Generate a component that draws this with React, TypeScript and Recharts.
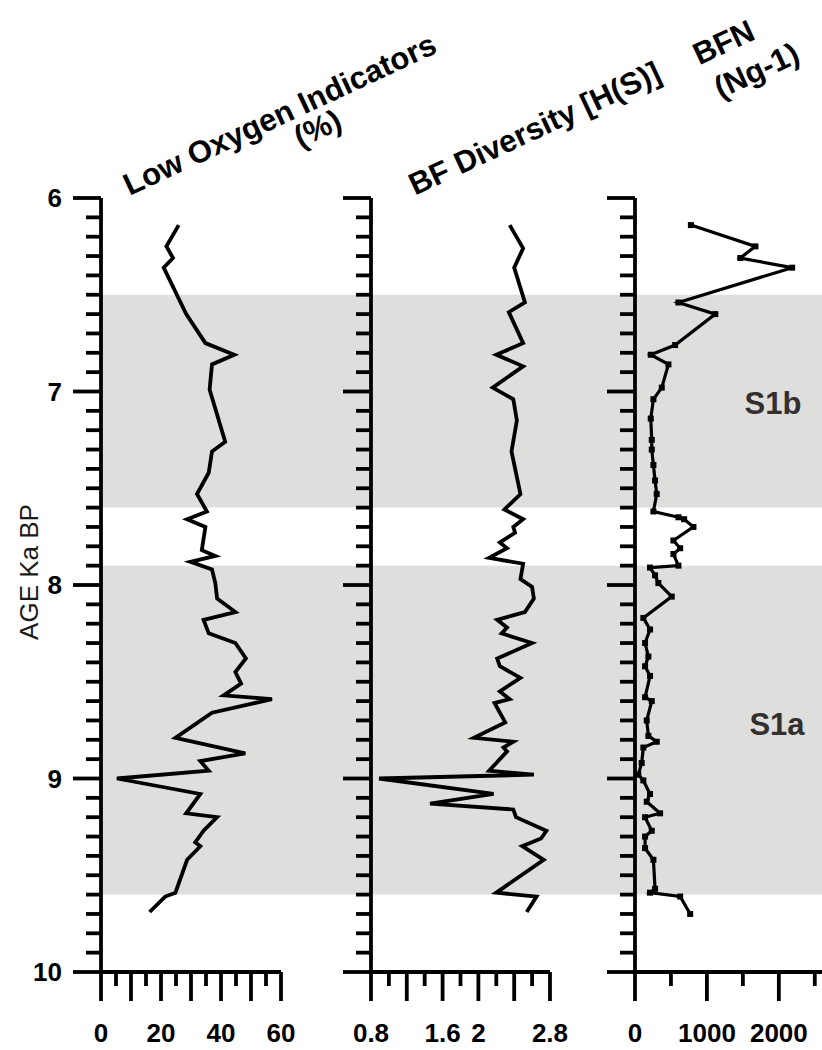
import React from "react";
import { ScatterChart, Scatter, XAxis, YAxis, ReferenceArea, ReferenceLine } from "recharts";

const FONT = "'Liberation Sans', Arial, Helvetica, sans-serif";

// age axis (ka BP), minor tick every 0.1
const AGE_TICKS = [
  6, 6.1, 6.2, 6.3, 6.4, 6.5, 6.6, 6.7, 6.8, 6.9,
  7, 7.1, 7.2, 7.3, 7.4, 7.5, 7.6, 7.7, 7.8, 7.9,
  8, 8.1, 8.2, 8.3, 8.4, 8.5, 8.6, 8.7, 8.8, 8.9,
  9, 9.1, 9.2, 9.3, 9.4, 9.5, 9.6, 9.7, 9.8, 9.9, 10,
];
const AGE_MAJOR = [6, 7, 8, 9, 10];

// sapropel sub-units
const BAND_NAMES = ["S1b", "S1a"];
const BAND_TOP = [6.5, 7.9];
const BAND_BOTTOM = [7.6, 9.6];

// low oxygen indicators (%)
const oxyAge = [
  6.14, 6.25, 6.31, 6.36, 6.6, 6.75, 6.81, 6.86, 6.99, 7.26, 7.31, 7.42, 7.53, 7.62, 7.66, 7.7,
  7.82, 7.85, 7.88, 7.92, 7.99, 8.07, 8.14, 8.18, 8.25, 8.3, 8.38, 8.45, 8.51, 8.57, 8.59, 8.66,
  8.79, 8.87, 8.91, 8.96, 9.0, 9.08, 9.18, 9.2, 9.27, 9.33, 9.35, 9.42, 9.59, 9.61, 9.69,
];
const oxyPct = [
  25.9, 21.8, 24, 20.9, 28.4, 34.8, 44.4, 37, 36.2, 41.4, 37, 35.9, 32, 35.3, 28.7, 34.8,
  33.6, 38.1, 29.8, 37, 38.1, 38.7, 44.8, 34.2, 35.9, 44.8, 48.3, 44.8, 46.7, 40.9, 57, 37,
  24.8, 48.1, 33.1, 35.9, 5.3, 33.1, 28.4, 38.7, 34.2, 31.4, 33.1, 28.7, 24.8, 21.4, 16.2,
];

// benthic foraminifera diversity H(S)
const divAge = [
  6.14, 6.26, 6.36, 6.54, 6.59, 6.75, 6.81, 6.87, 6.98, 7.04, 7.15, 7.31, 7.53, 7.61, 7.66, 7.7,
  7.73, 7.78, 7.81, 7.86, 7.89, 7.97, 8.01, 8.07, 8.14, 8.18, 8.22, 8.25, 8.3, 8.38, 8.42, 8.48,
  8.55, 8.59, 8.61, 8.71, 8.79, 8.81, 8.84, 8.86, 8.96, 8.98, 9.0, 9.08, 9.13, 9.16, 9.2, 9.27,
  9.31, 9.35, 9.42, 9.59, 9.61, 9.69,
];
const divH = [
  2.35, 2.5, 2.4, 2.52, 2.34, 2.5, 2.2, 2.5, 2.16, 2.39, 2.43, 2.37, 2.47, 2.29, 2.5, 2.39,
  2.41, 2.24, 2.32, 2.12, 2.5, 2.47, 2.6, 2.62, 2.52, 2.21, 2.32, 2.26, 2.6, 2.21, 2.24, 2.47,
  2.24, 2.35, 2.18, 2.3, 1.95, 2.39, 2.28, 2.32, 2.12, 2.62, 0.89, 2.17, 1.46, 2.39, 2.42, 2.76,
  2.7, 2.49, 2.73, 2.2, 2.65, 2.54,
];

// benthic foraminifera number (Ng-1)
const bfnAge = [
  6.14, 6.25, 6.31, 6.36, 6.54, 6.6, 6.76, 6.81, 6.86, 6.98, 7.04, 7.14, 7.25, 7.3, 7.38, 7.46,
  7.53, 7.62, 7.65, 7.66, 7.7, 7.77, 7.81, 7.84, 7.9, 7.91, 7.95, 7.99, 8.06, 8.17, 8.23, 8.3,
  8.37, 8.42, 8.47, 8.58, 8.6, 8.7, 8.78, 8.81, 8.84, 8.92, 8.98, 9.01, 9.08, 9.12, 9.18, 9.2,
  9.27, 9.3, 9.36, 9.42, 9.57, 9.59, 9.61, 9.7,
];
const bfnCount = [
  777, 1674, 1464, 2185, 604, 1116, 558, 219, 465, 372, 256, 219, 233, 233, 256, 279,
  302, 256, 604, 683, 813, 534, 628, 534, 604, 209, 279, 325, 511, 116, 209, 140,
  186, 140, 209, 140, 233, 163, 186, 302, 116, 93, 46, 116, 209, 163, 349, 140,
  233, 140, 140, 256, 279, 209, 628, 767,
];

// x axes
const oxyTicks = [0, 5, 10, 15, 20, 25, 30, 35, 40, 45, 50, 55, 60];
const oxyLong = [0, 10, 20, 30, 40, 50, 60];
const oxyLabels = [0, 20, 40, 60];

const divTicks = [0.8, 1, 1.2, 1.4, 1.6, 1.8, 2, 2.2, 2.4, 2.6, 2.8];
const divLong = [0.8, 1.2, 1.6, 2, 2.4, 2.8];
const divLabels = [0.8, 1.6, 2, 2.8];

const bfnTicks = [0, 500, 1000, 1500, 2000, 2500];
const bfnLong = [0, 1000, 2000];
const bfnLabels = [0, 1000, 2000];

const zip = (ages: number[], vals: number[]) => ages.map((age, i) => ({ age, v: vals[i] }));

const AXIS_W = 3.8;

const AgeTick = (props: any) => {
  const { x, y, payload, showLabel } = props;
  const major = AGE_MAJOR.includes(payload.value);
  return (
    <g>
      <line x1={x - (major ? 28 : 15)} x2={x} y1={y} y2={y} stroke="#000" strokeWidth={AXIS_W} />
      {major && showLabel && (
        <text x={x - 39} y={y} textAnchor="end" dominantBaseline="central"
          fontFamily={FONT} fontWeight="bold" fontSize={26} fill="#000">
          {payload.value}
        </text>
      )}
    </g>
  );
};

const ValueTick = (props: any) => {
  const { x, y, payload, longTicks, labels } = props;
  const v = payload.value;
  const isLong = longTicks.includes(v);
  return (
    <g>
      <line x1={x} x2={x} y1={y} y2={y + (isLong ? 29 : 14)} stroke="#000" strokeWidth={AXIS_W} />
      {labels.includes(v) && (
        <text x={x} y={y + 61} textAnchor="middle" dominantBaseline="central"
          fontFamily={FONT} fontWeight="bold" fontSize={26} fill="#000">
          {v}
        </text>
      )}
    </g>
  );
};

const hidden = () => <g />;
const square = (p: any) => <rect x={p.cx - 3} y={p.cy - 3} width={6} height={6} fill="#000" />;

type PanelProps = {
  left: number;
  axisWidth: number;
  plotWidth: number;
  domain: [number, number];
  axisEnd: number;
  ticks: number[];
  longTicks: number[];
  labels: number[];
  rows: { age: number; v: number }[];
  markers?: boolean;
  showAgeLabels?: boolean;
  lineWidth: number;
};

function Panel(p: PanelProps) {
  return (
    <div style={{ position: "absolute", left: p.left, top: 0 }}>
      <ScatterChart width={p.axisWidth + p.plotWidth} height={1050}
        margin={{ top: 198, right: 0, bottom: 0, left: 0 }}>
        {BAND_TOP.map((top, i) => (
          <ReferenceArea key={BAND_NAMES[i]} y1={top} y2={BAND_BOTTOM[i]}
            fill="#dededc" fillOpacity={1} stroke="none" ifOverflow="hidden" />
        ))}
        <XAxis type="number" dataKey="v" domain={p.domain} ticks={p.ticks} interval={0}
          height={78} axisLine={false} tickLine={false} tickSize={0} tickMargin={0}
          allowDataOverflow
          tick={<ValueTick longTicks={p.longTicks} labels={p.labels} />} />
        <YAxis type="number" dataKey="age" domain={[6, 10]} reversed ticks={AGE_TICKS} interval={0}
          width={p.axisWidth} tickLine={false} tickSize={0} tickMargin={0}
          axisLine={{ stroke: "#000", strokeWidth: AXIS_W }}
          tick={<AgeTick showLabel={p.showAgeLabels} />} />
        <ReferenceLine segment={[{ x: p.domain[0], y: 10 }, { x: p.axisEnd, y: 10 }]}
          stroke="#000" strokeWidth={AXIS_W} ifOverflow="visible" />
        <Scatter data={p.rows} fill="#000" isAnimationActive={false}
          line={{ stroke: "#000", strokeWidth: p.lineWidth }} lineJointType="linear"
          shape={p.markers ? square : hidden} />
      </ScatterChart>
    </div>
  );
}

export default function App() {
  const titleStyle = { fontFamily: FONT, fontWeight: "bold" as const, fontSize: 31, fill: "#000" };
  return (
    <div style={{ position: "absolute", left: 0, top: 0, width: 822, height: 1050, background: "#fff", overflow: "hidden" }}>
      <Panel left={0} axisWidth={101} plotWidth={270} domain={[0, 90]} axisEnd={60}
        ticks={oxyTicks} longTicks={oxyLong} labels={oxyLabels}
        rows={zip(oxyAge, oxyPct)} showAgeLabels lineWidth={3.8} />
      <Panel left={341} axisWidth={30} plotWidth={264} domain={[0.8, 3.75]} axisEnd={2.8}
        ticks={divTicks} longTicks={divLong} labels={divLabels}
        rows={zip(divAge, divH)} lineWidth={3.8} />
      <Panel left={605} axisWidth={30} plotWidth={187} domain={[0, 2600]} axisEnd={2600}
        ticks={bfnTicks} longTicks={bfnLong} labels={bfnLabels}
        rows={zip(bfnAge, bfnCount)} markers lineWidth={3.2} />
      <svg width={822} height={1050} style={{ position: "absolute", left: 0, top: 0, pointerEvents: "none" }}>
        <text transform="translate(284,124) rotate(-25)" textAnchor="middle" {...titleStyle}>
          Low Oxygen Indicators
        </text>
        <text transform="translate(322,138) rotate(-25)" textAnchor="middle" {...titleStyle}>
          (%)
        </text>
        <text transform="translate(539,138) rotate(-25)" textAnchor="middle" {...titleStyle}>
          BF Diversity [H(S)]
        </text>
        <text transform="translate(728,52) rotate(-25)" textAnchor="middle" {...titleStyle}>
          BFN
        </text>
        <text transform="translate(761,80) rotate(-25)" textAnchor="middle" {...titleStyle}>
          (Ng-1)
        </text>
        <text transform="translate(38,572) rotate(-90)" textAnchor="middle"
          fontFamily={FONT} fontSize={26} fill="#1a1a1a">
          AGE Ka BP
        </text>
        <text x={773} y={403} textAnchor="middle" dominantBaseline="central"
          fontFamily={FONT} fontWeight="bold" fontSize={31} fill="#332f2f">
          {BAND_NAMES[0]}
        </text>
        <text x={777} y={724} textAnchor="middle" dominantBaseline="central"
          fontFamily={FONT} fontWeight="bold" fontSize={31} fill="#332f2f">
          {BAND_NAMES[1]}
        </text>
      </svg>
    </div>
  );
}
